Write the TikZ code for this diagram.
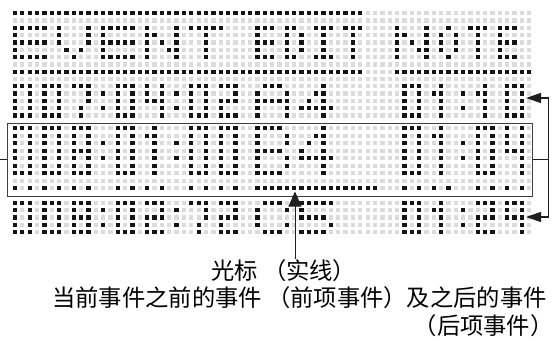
\documentclass[tikz,border=0pt]{standalone}
\usepackage{fontspec}
\newfontfamily\cjk{Noto Sans CJK SC}
\usetikzlibrary{arrows.meta}
\makeatletter
\newcount\lcdC
\def\lcdRY#1{\ifcase#1 13.3\or 20.6\or 27.9\or 35.2\or 42.5\or 49.8\or 57.1\or 64.4\or 71.7\or 79.0\or 86.3\or 93.6\or 100.9\or 108.2\or 115.5\or 128.3\or 135.8\or 143.3\or 150.8\or 158.3\or 165.8\or 173.3\or 180.8\or 188.3\or 202.7\or 210.1\or 217.5\or 224.9\or 232.3\fi}
\newcommand\lcdput[3]{% style, col, row
  \pgfmathsetmacro\lcdX{15+7.347*#2}%
  \edef\lcdY{\lcdRY{#3}}%
  \fill[#1] (\lcdX-2.15,\lcdY-2.15) rectangle ++(4.3,4.3);}
\def\lcdparse#1{%
  \ifx\relax#1\else
    \if X#1\lcdput{lcdon}{\the\lcdC}{\lcdRow}\fi
    \advance\lcdC\@ne
    \expandafter\lcdparse
  \fi}
\newcommand\lcdglyph[3]{% col, first row, list of row strings
  \edef\lcdList{#3}%
  \foreach \lcdS [count=\lcdI from 0] in \lcdList {%
    \lcdC=#1\relax
    \pgfmathtruncatemacro\lcdRow{#2+\lcdI}%
    \expandafter\lcdparse\lcdS\relax}}
\newcommand\lcdrun[3]{% row, from col, to col
  \foreach \lcdK in {#2,...,#3}{\lcdput{lcdon}{\lcdK}{#1}}}
\makeatother
% 3x5 digits
\def\szero{XXX,X-X,X-X,X-X,XXX}
\def\sone{-X-,XX-,-X-,-X-,-X-}
\def\stwo{XXX,--X,XXX,X--,XXX}
\def\sfour{X-X,X-X,XXX,--X,--X}
\def\snine{XXX,X-X,XXX,--X,--X}
\def\sseven{XXX,--X,--X,-X-,-X-}
\def\seight{XXX,X-X,XXX,X-X,XXX}
\def\scolon{-,X,-,X,-}
% 3x7 digits
\def\bzero{XXX,X-X,X-X,X-X,X-X,X-X,XXX}
\def\bone{-X-,XX-,-X-,-X-,-X-,-X-,-X-}
\def\beight{XXX,X-X,X-X,XXX,X-X,X-X,XXX}
\def\bfour{X-X,X-X,X-X,XXX,--X,--X,--X}
\def\bcolon{-,-,X,-,X,-,-}
% letters
\def\gA{-XXX-,X---X,XXXXX,X---X,X---X}
\def\gC{-XXX-,X---X,X----,X---X,-XXX-}
\def\gfourS{---X-,--XX-,-X-X-,XXXXX,---X-}
\def\gfive{XXXXX,X----,XXXX-,----X,XXXX-}
\def\gB{XXXX-,X---X,X---X,XXXX-,X---X,X---X,XXXX-}
\def\gfourB{---X-,--XX-,-X-X-,X--X-,XXXXX,---X-,---X-}
\def\tE{XXXXX,X----,XXXXX,X----,XXXXX}
\def\tV{X---X,X---X,X---X,-X-X-,--X--}
\def\tN{X---X,XX--X,X-X-X,X--XX,X---X}
\def\tT{XXXXX,--X--,--X--,--X--,--X--}
\def\uE{XXX,X--,XXX,X--,XXX}
\def\uD{XX-,X-X,X-X,X-X,XX-}
\def\uI{XXX,-X-,-X-,-X-,XXX}
\def\uT{XXX,-X-,-X-,-X-,-X-}
\def\uO{-X-,X-X,X-X,X-X,-X-}
\begin{document}
\begin{tikzpicture}[x=1pt,y=-1pt,
  lcdoff/.style={fill=black!14},
  lcdon/.style={fill=black!92},
  curbox/.style={draw=black!75, line width=1.3pt, inner sep=0pt},
  conn/.style={draw=black!88, line width=1.1pt},
  sidetip/.style={-{Triangle[length=15pt,width=10pt]}},
  curtip/.style={-{Triangle[length=15pt,width=13pt]}},
  lbl/.style={font=\cjk\fontsize{23.3}{28}\selectfont, inner sep=0pt, anchor=base west}]
\useasboundingbox (0,0) rectangle (554,340);
% background grid of unlit dots
\foreach \r in {0,...,28}{\foreach \c in {0,...,70}{\lcdput{lcdoff}{\c}{\r}}}
% title bars
\lcdrun{0}{0}{47}
\lcdrun{8}{0}{47}
\lcdrun{8}{52}{70}
% title
\lcdglyph{0}{2}{\tE}
\lcdglyph{6}{2}{\tV}
\lcdglyph{12}{2}{\tE}
\lcdglyph{18}{2}{\tN}
\lcdglyph{24}{2}{\tT}
\lcdglyph{33}{2}{\uE}
\lcdglyph{37}{2}{\uD}
\lcdglyph{41}{2}{\uI}
\lcdglyph{45}{2}{\uT}
\lcdglyph{52}{2}{\tN}
\lcdglyph{58}{2}{\uO}
\lcdglyph{62}{2}{\uT}
\lcdglyph{66}{2}{\uE}
% previous event
\lcdglyph{0}{10}{\szero}
\lcdglyph{4}{10}{\szero}
\lcdglyph{8}{10}{\sseven}
\lcdglyph{12}{10}{\scolon}
\lcdglyph{14}{10}{\szero}
\lcdglyph{18}{10}{\sfour}
\lcdglyph{22}{10}{\scolon}
\lcdglyph{24}{10}{\szero}
\lcdglyph{28}{10}{\stwo}
\lcdglyph{33}{10}{\gA}
\lcdglyph{39}{10}{\gfourS}
\lcdglyph{53}{10}{\szero}
\lcdglyph{57}{10}{\sone}
\lcdglyph{61}{10}{\scolon}
\lcdglyph{63}{10}{\sone}
\lcdglyph{67}{10}{\szero}
% current event
\lcdglyph{0}{15}{\bzero}
\lcdglyph{4}{15}{\bzero}
\lcdglyph{8}{15}{\beight}
\lcdglyph{12}{15}{\bcolon}
\lcdglyph{14}{15}{\bzero}
\lcdglyph{18}{15}{\bone}
\lcdglyph{22}{15}{\bcolon}
\lcdglyph{24}{15}{\bzero}
\lcdglyph{28}{15}{\bzero}
\lcdglyph{33}{15}{\gB}
\lcdglyph{39}{15}{\gfourB}
\lcdglyph{53}{15}{\bzero}
\lcdglyph{57}{15}{\bone}
\lcdglyph{61}{15}{\bcolon}
\lcdglyph{63}{15}{\bzero}
\lcdglyph{67}{15}{\bfour}
% underline marks and cursor
\foreach \c in {0,2,4,6,8,10,14,16,18,20,24,26,28,30,53,55,57,59,63,65,67,69}{\lcdput{lcdon}{\c}{23}}
\lcdrun{23}{33}{49}
% next event
\lcdglyph{0}{24}{\szero}
\lcdglyph{4}{24}{\szero}
\lcdglyph{8}{24}{\seight}
\lcdglyph{12}{24}{\scolon}
\lcdglyph{14}{24}{\szero}
\lcdglyph{18}{24}{\stwo}
\lcdglyph{22}{24}{\scolon}
\lcdglyph{24}{24}{\sseven}
\lcdglyph{28}{24}{\stwo}
\lcdglyph{33}{24}{\gC}
\lcdglyph{39}{24}{\gfive}
\lcdglyph{53}{24}{\szero}
\lcdglyph{57}{24}{\sone}
\lcdglyph{61}{24}{\scolon}
\lcdglyph{63}{24}{\stwo}
\lcdglyph{67}{24}{\snine}
% cursor box
\node[curbox, anchor=north west, minimum width=525pt, minimum height=73.5pt] (cur) at (6.7,122.5) {};
% connectors
\coordinate (lend) at (0,159);
\draw[conn] (cur.west) -- (lend |- cur.west);
\coordinate (bk1) at (548.3,98);
\coordinate (bk3) at (548.3,217);
\coordinate (tp1) at (526,98);
\coordinate (tp3) at (526,217);
\draw[conn] (cur.east) -- (cur.east -| bk1);
\draw[conn,sidetip] (cur.east -| bk1) -- (bk1) -- (tp1);
\draw[conn,sidetip] (cur.east -| bk3) -- (bk3) -- (tp3);
% labels
\node[lbl] (t1) at (211,279) {光标 （实线）};
\node[lbl] (t2) at (52,306) {当前事件之前的事件 （前项事件）及之后的事件};
\node[lbl] (t3) at (413.5,334) {（后项事件）};
\coordinate (ctip) at (295,191.5);
\draw[conn,curtip,line width=1pt] (t1.north -| ctip) -- (ctip);
\end{tikzpicture}
\end{document}
